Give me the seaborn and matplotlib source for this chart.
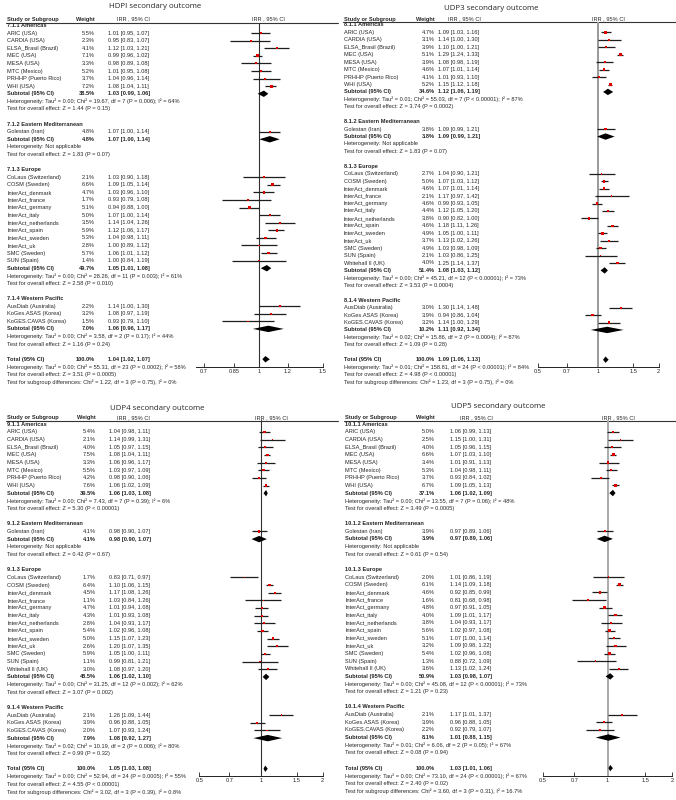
import matplotlib.pyplot as plt
import seaborn as sns
import pandas as pd
from matplotlib.ticker import NullLocator

sns.set_theme(style="white")
plt.rcParams["font.family"] = ["Liberation Sans", "DejaVu Sans"]

# ---- study names ----
regions = ["Americas", "Eastern Mediterranean", "Europe", "Western Pacific"]
americas = ["ARIC (USA)", "CARDIA (USA)", "ELSA_Brasil (Brazil)", "MEC (USA)",
            "MESA (USA)", "MTC (Mexico)", "PRHHP (Puerto Rico)", "WHI (USA)"]
east_med = ["Golestan (Iran)"]
europe = ["CoLaus (Switzerland)", "COSM (Sweden)", "InterAct_denmark", "InterAct_france",
          "InterAct_germany", "InterAct_italy", "InterAct_netherlands", "InterAct_spain",
          "InterAct_sweden", "InterAct_uk", "SMC (Sweden)", "SUN (Spain)", "Whitehall II (UK)"]
west_pac = ["AusDiab (Australia)", "KoGes.ASAS (Korea)", "KoGES.CAVAS (Korea)"]

# ---- HDPI ----
hdpi_weight = [5.5, 2.3, 4.1, 7.1, 3.3, 5.2, 3.7, 7.2,
               4.8,
               2.1, 6.6, 4.7, 1.7, 5.1, 5.0, 3.5, 5.9, 5.3, 2.8, 5.7, 1.4,
               2.2, 3.2, 1.5]
hdpi_irr = [1.01, 0.95, 1.12, 0.99, 0.98, 1.01, 1.04, 1.08,
            1.07,
            1.03, 1.09, 1.03, 0.93, 0.94, 1.07, 1.14, 1.12, 1.04, 1.00, 1.06, 1.00,
            1.14, 1.08, 0.93]
hdpi_lo = [0.95, 0.83, 1.03, 0.96, 0.89, 0.95, 0.96, 1.04,
           1.00,
           0.90, 1.05, 0.96, 0.79, 0.88, 1.00, 1.04, 1.06, 0.98, 0.89, 1.01, 0.84,
           1.00, 0.97, 0.79]
hdpi_hi = [1.07, 1.07, 1.21, 1.02, 1.08, 1.08, 1.14, 1.11,
           1.14,
           1.18, 1.14, 1.10, 1.08, 1.00, 1.14, 1.26, 1.17, 1.11, 1.12, 1.12, 1.19,
           1.30, 1.19, 1.10]
hdpi_sub_w = [38.5, 4.8, 49.7, 7.0, 100.0]
hdpi_sub_irr = [1.03, 1.07, 1.05, 1.06, 1.04]
hdpi_sub_lo = [0.99, 1.00, 1.01, 0.96, 1.02]
hdpi_sub_hi = [1.06, 1.14, 1.08, 1.17, 1.07]
hdpi_het = ["Tau² = 0.00; Chi² = 19.67, df = 7 (P = 0.006); I² = 64%",
            "Not applicable",
            "Tau² = 0.00; Chi² = 28.26, df = 11 (P = 0.003); I² = 61%",
            "Tau² = 0.00; Chi² = 3.58, df = 2 (P = 0.17); I² = 44%",
            "Tau² = 0.00; Chi² = 55.31, df = 23 (P = 0.0002); I² = 58%"]
hdpi_z = ["Z = 1.44 (P = 0.15)", "Z = 1.83 (P = 0.07)", "Z = 2.58 (P = 0.010)",
          "Z = 1.16 (P = 0.24)", "Z = 3.51 (P = 0.0005)"]
hdpi_diff = "Chi² = 1.22, df = 3 (P = 0.75), I² = 0%"

# ---- UDP3 ----
udp3_weight = [4.7, 3.1, 3.9, 5.1, 3.9, 4.6, 4.1, 5.2,
               3.8,
               2.7, 5.0, 4.6, 2.1, 4.6, 4.4, 3.8, 4.6, 4.9, 3.7, 4.9, 2.1, 4.0,
               3.0, 3.9, 3.2]
udp3_irr = [1.09, 1.14, 1.10, 1.29, 1.08, 1.07, 1.01, 1.15,
            1.09,
            1.04, 1.07, 1.07, 1.17, 0.99, 1.12, 0.90, 1.18, 1.05, 1.13, 1.03, 1.03, 1.25,
            1.30, 0.94, 1.14]
udp3_lo = [1.03, 1.00, 1.00, 1.24, 0.98, 1.01, 0.93, 1.12,
           0.99,
           0.90, 1.03, 1.01, 0.97, 0.93, 1.05, 0.82, 1.11, 1.00, 1.02, 0.98, 0.86, 1.14,
           1.14, 0.86, 1.00]
udp3_hi = [1.16, 1.30, 1.21, 1.33, 1.19, 1.14, 1.10, 1.18,
           1.21,
           1.21, 1.12, 1.14, 1.42, 1.05, 1.20, 1.00, 1.26, 1.11, 1.26, 1.09, 1.25, 1.37,
           1.48, 1.04, 1.29]
udp3_sub_w = [34.6, 3.8, 51.4, 10.2, 100.0]
udp3_sub_irr = [1.12, 1.09, 1.08, 1.11, 1.09]
udp3_sub_lo = [1.06, 0.99, 1.03, 0.92, 1.06]
udp3_sub_hi = [1.19, 1.21, 1.12, 1.34, 1.13]
udp3_het = ["Tau² = 0.01; Chi² = 55.03, df = 7 (P < 0.00001); I² = 87%",
            "Not applicable",
            "Tau² = 0.00; Chi² = 45.21, df = 12 (P < 0.00001); I² = 73%",
            "Tau² = 0.02; Chi² = 15.86, df = 2 (P = 0.0004); I² = 87%",
            "Tau² = 0.01; Chi² = 158.81, df = 24 (P < 0.00001); I² = 84%"]
udp3_z = ["Z = 3.74 (P = 0.0002)", "Z = 1.83 (P = 0.07)", "Z = 3.53 (P = 0.0004)",
          "Z = 1.09 (P = 0.28)", "Z = 4.98 (P < 0.00001)"]
udp3_diff = "Chi² = 1.23, df = 3 (P = 0.75), I² = 0%"

# ---- UDP4 ----
udp4_weight = [5.4, 2.1, 4.0, 7.5, 3.3, 5.5, 4.2, 7.6,
               4.1,
               1.7, 6.4, 4.5, 1.1, 4.7, 4.3, 2.8, 5.4, 5.0, 2.6, 5.9, 1.1, 3.0,
               2.1, 3.9, 2.0]
udp4_irr = [1.04, 1.14, 1.05, 1.08, 1.06, 1.03, 0.98, 1.06,
            0.98,
            0.83, 1.10, 1.17, 1.03, 1.01, 1.01, 1.04, 1.02, 1.15, 1.20, 1.05, 0.99, 1.08,
            1.26, 0.96, 1.07]
udp4_lo = [0.98, 0.99, 0.97, 1.04, 0.96, 0.97, 0.90, 1.02,
           0.90,
           0.71, 1.06, 1.08, 0.84, 0.94, 0.93, 0.93, 0.96, 1.07, 1.07, 1.00, 0.81, 0.97,
           1.09, 0.88, 0.93]
udp4_hi = [1.11, 1.31, 1.15, 1.11, 1.17, 1.09, 1.06, 1.09,
           1.07,
           0.97, 1.15, 1.26, 1.26, 1.08, 1.08, 1.17, 1.08, 1.23, 1.35, 1.11, 1.21, 1.20,
           1.44, 1.05, 1.24]
udp4_sub_w = [39.5, 4.1, 48.5, 7.9, 100.0]
udp4_sub_irr = [1.06, 0.98, 1.06, 1.08, 1.05]
udp4_sub_lo = [1.03, 0.90, 1.02, 0.92, 1.03]
udp4_sub_hi = [1.08, 1.07, 1.10, 1.27, 1.08]
udp4_het = ["Tau² = 0.00; Chi² = 7.43, df = 7 (P = 0.39); I² = 6%",
            "Not applicable",
            "Tau² = 0.00; Chi² = 31.25, df = 12 (P = 0.002); I² = 62%",
            "Tau² = 0.02; Chi² = 10.19, df = 2 (P = 0.006); I² = 80%",
            "Tau² = 0.00; Chi² = 52.94, df = 24 (P = 0.0005); I² = 55%"]
udp4_z = ["Z = 5.30 (P < 0.00001)", "Z = 0.42 (P = 0.67)", "Z = 3.07 (P = 0.002)",
          "Z = 0.99 (P = 0.32)", "Z = 4.55 (P < 0.00001)"]
udp4_diff = "Chi² = 3.02, df = 3 (P = 0.39), I² = 0.8%"

# ---- UDP5 ----
udp5_weight = [5.0, 2.5, 4.0, 6.6, 3.4, 5.3, 3.7, 6.7,
               3.9,
               2.0, 6.1, 4.6, 1.6, 4.8, 4.0, 3.8, 5.6, 5.1, 3.2, 5.4, 1.3, 3.6,
               2.1, 3.9, 2.2]
udp5_irr = [1.06, 1.15, 1.05, 1.07, 1.01, 1.04, 0.93, 1.09,
            0.97,
            1.01, 1.14, 0.92, 0.81, 0.97, 1.09, 1.04, 1.02, 1.07, 1.09, 1.02, 0.88, 1.13,
            1.17, 0.96, 0.92]
udp5_lo = [0.99, 1.00, 0.96, 1.03, 0.91, 0.98, 0.84, 1.05,
           0.89,
           0.86, 1.09, 0.85, 0.68, 0.91, 1.01, 0.93, 0.97, 1.00, 0.98, 0.96, 0.72, 1.02,
           1.01, 0.88, 0.79]
udp5_hi = [1.13, 1.31, 1.15, 1.10, 1.13, 1.11, 1.02, 1.13,
           1.06,
           1.19, 1.18, 0.99, 0.98, 1.05, 1.17, 1.17, 1.08, 1.14, 1.22, 1.08, 1.09, 1.24,
           1.37, 1.05, 1.07]
udp5_sub_w = [37.1, 3.9, 50.9, 8.1, 100.0]
udp5_sub_irr = [1.06, 0.97, 1.03, 1.01, 1.03]
udp5_sub_lo = [1.02, 0.89, 0.98, 0.88, 1.01]
udp5_sub_hi = [1.09, 1.06, 1.07, 1.15, 1.06]
udp5_het = ["Tau² = 0.00; Chi² = 13.55, df = 7 (P = 0.06); I² = 48%",
            "Not applicable",
            "Tau² = 0.00; Chi² = 45.08, df = 12 (P < 0.00001); I² = 73%",
            "Tau² = 0.01; Chi² = 6.06, df = 2 (P = 0.05); I² = 67%",
            "Tau² = 0.00; Chi² = 73.10, df = 24 (P < 0.00001); I² = 67%"]
udp5_z = ["Z = 3.49 (P = 0.0005)", "Z = 0.61 (P = 0.54)", "Z = 1.21 (P = 0.23)",
          "Z = 0.08 (P = 0.94)", "Z = 2.40 (P = 0.02)"]
udp5_diff = "Chi² = 3.60, df = 3 (P = 0.31), I² = 16.7%"

W, H = 676, 800
FS = 4.1

fig = plt.figure(figsize=(W / 100, H / 100), dpi=100)
txt = fig.add_axes([0, 0, 1, 1])
txt.set_xlim(0, W)
txt.set_ylim(H, 0)
txt.axis("off")


def draw_panel(lay, title, prefix, studies, weight, irr, lo, hi,
               sub_w, sub_irr, sub_lo, sub_hi, het, z, diff):
    nx, wx, cx = lay["name_x"], lay["weight_x"], lay["irr_x"]
    txt.text(lay["title_x"], lay["title_y"], title, fontsize=5.7, ha="center", va="center",
             family=["Open Sans", "DejaVu Sans"])
    hy = lay["head_y"]
    txt.text(nx, hy, "Study or Subgroup", fontsize=FS, fontweight="bold", va="center")
    txt.text(wx, hy, "Weight", fontsize=FS, fontweight="bold", va="center", ha="right")
    txt.text(lay["irr_head_x"], hy, "IRR , 95% CI", fontsize=FS, va="center", ha="center")
    txt.text(lay["plot_head_x"], hy, "IRR , 95% CI", fontsize=FS, va="center", ha="center")
    txt.plot([nx - 1, lay["right"]], [lay["line_y"]] * 2, color="#333333", lw=0.8)

    left, right = lay["f_left"], lay["f_right"]
    ytop, yax = lay["line_y"], lay["axis_y"]
    fx = fig.add_axes([left / W, 1 - yax / H, (right - left) / W, (yax - ytop) / H])
    fx.set_xscale("log")
    fx.axvline(1, color=lay["vcolor"], lw=lay["vlw"], zorder=1)

    def row_text(y, name, w, e, l, h, bold=False):
        fw = "bold" if bold else "normal"
        txt.text(nx, y, name, fontsize=FS, fontweight=fw, va="center")
        txt.text(wx, y, f"{w:.1f}%", fontsize=FS, fontweight=fw, va="center", ha="right")
        txt.text(cx, y, f"{e:.2f} [{l:.2f}, {h:.2f}]", fontsize=FS, fontweight=fw, va="center")

    def diamond(y, e, l, h):
        d = 3.2
        fx.fill([l, e, h, e], [y, y - d, y, y + d], color="black", lw=0, zorder=3)

    ys, k, i = [], 0, 0
    y0, dy = lay["row0"], lay["dy"]
    for g, names in enumerate(studies):
        txt.text(nx, y0 + i * dy, f"{prefix}{g + 1} {regions[g]}", fontsize=FS,
                 fontweight="bold", va="center")
        i += 1
        for name in names:
            y = y0 + i * dy
            row_text(y, name, weight[k], irr[k], lo[k], hi[k])
            fx.plot([lo[k], hi[k]], [y, y], color="#1e1e1e", lw=0.9,
                    solid_capstyle="butt", zorder=2)
            ys.append(y)
            k += 1
            i += 1
        y = y0 + i * dy
        row_text(y, "Subtotal (95% CI)", sub_w[g], sub_irr[g], sub_lo[g], sub_hi[g], bold=True)
        diamond(y, sub_irr[g], sub_lo[g], sub_hi[g])
        i += 1
        txt.text(nx, y0 + i * dy, "Heterogeneity: " + het[g], fontsize=FS, va="center")
        i += 1
        txt.text(nx, y0 + i * dy, "Test for overall effect: " + z[g], fontsize=FS, va="center")
        i += 2
    y = y0 + i * dy
    row_text(y, "Total (95% CI)", sub_w[4], sub_irr[4], sub_lo[4], sub_hi[4], bold=True)
    diamond(y, sub_irr[4], sub_lo[4], sub_hi[4])
    i += 1
    txt.text(nx, y0 + i * dy, "Heterogeneity: " + het[4], fontsize=FS, va="center")
    i += 1
    txt.text(nx, y0 + i * dy, "Test for overall effect: " + z[4], fontsize=FS, va="center")
    i += 1
    txt.text(nx, y0 + i * dy, "Test for subgroup differences: " + diff, fontsize=FS, va="center")

    df = pd.DataFrame({"irr": irr, "y": ys, "weight": weight})
    sns.scatterplot(data=df, x="irr", y="y", size="weight", sizes=(1.2, 4), marker="s",
                    color="#e00000", linewidth=0, legend=False, ax=fx, zorder=4)

    fx.set_xlim(*lay["xlim"])
    fx.set_ylim(yax, ytop)
    fx.set_xlabel("")
    fx.set_ylabel("")
    fx.set_yticks([])
    fx.set_xticks(lay["ticks"])
    fx.set_xticklabels(lay["ticklabels"])
    fx.xaxis.set_minor_locator(NullLocator())
    fx.tick_params(axis="x", direction="in", length=3, width=0.6, labelsize=FS,
                   pad=1.5, bottom=True, colors="#222222")
    for s in ["top", "left", "right"]:
        fx.spines[s].set_visible(False)
    fx.spines["bottom"].set_color("#222222")
    fx.spines["bottom"].set_linewidth(0.7)
    fx.patch.set_alpha(0)


wide_ticks = [0.5, 0.7, 1, 1.5, 2]
wide_labels = ["0.5", "0.7", "1", "1.5", "2"]

hdpi_lay = dict(title_x=155, title_y=6, head_y=19, line_y=22.5, right=338,
                name_x=7, weight_x=95, irr_x=108, irr_head_x=133, plot_head_x=268,
                row0=25.5, dy=7.585, f_left=196, f_right=322.5, axis_y=367,
                xlim=(1 / 1.5, 1.5), ticks=[0.7, 0.85, 1, 1.2, 1.5],
                ticklabels=["0.7", "0.85", "1", "1.2", "1.5"], vcolor="#333333", vlw=0.8)
udp3_lay = dict(title_x=491, title_y=9, head_y=19, line_y=22, right=676,
                name_x=344, weight_x=435, irr_x=438, irr_head_x=464, plot_head_x=608,
                row0=25, dy=7.4375, f_left=537.5, f_right=658.5, axis_y=367,
                xlim=(0.5, 2), ticks=wide_ticks, ticklabels=wide_labels,
                vcolor="#999999", vlw=1.4)
udp4_lay = dict(title_x=157, title_y=409, head_y=418, line_y=420.5, right=338,
                name_x=7, weight_x=96, irr_x=109, irr_head_x=133, plot_head_x=271,
                row0=424.3, dy=7.654, f_left=199.3, f_right=322.5, axis_y=776,
                xlim=(0.5, 2), ticks=wide_ticks, ticklabels=wide_labels,
                vcolor="#333333", vlw=0.8)
udp5_lay = dict(title_x=498, title_y=407, head_y=418, line_y=420.5, right=676,
                name_x=345, weight_x=435, irr_x=450, irr_head_x=476, plot_head_x=618,
                row0=424.3, dy=7.64, f_left=543, f_right=672, axis_y=776,
                xlim=(0.5, 2), ticks=wide_ticks, ticklabels=wide_labels,
                vcolor="#aaaaaa", vlw=1.4)

full = [americas, east_med, europe, west_pac]
draw_panel(hdpi_lay, "HDPI secondary outcome", "7.1.", [americas, east_med, europe[:12], west_pac],
           hdpi_weight, hdpi_irr, hdpi_lo, hdpi_hi, hdpi_sub_w, hdpi_sub_irr, hdpi_sub_lo,
           hdpi_sub_hi, hdpi_het, hdpi_z, hdpi_diff)
draw_panel(udp3_lay, "UDP3 secondary outcome", "8.1.", full,
           udp3_weight, udp3_irr, udp3_lo, udp3_hi, udp3_sub_w, udp3_sub_irr, udp3_sub_lo,
           udp3_sub_hi, udp3_het, udp3_z, udp3_diff)
draw_panel(udp4_lay, "UDP4 secondary outcome", "9.1.", full,
           udp4_weight, udp4_irr, udp4_lo, udp4_hi, udp4_sub_w, udp4_sub_irr, udp4_sub_lo,
           udp4_sub_hi, udp4_het, udp4_z, udp4_diff)
draw_panel(udp5_lay, "UDP5 secondary outcome", "10.1.", full,
           udp5_weight, udp5_irr, udp5_lo, udp5_hi, udp5_sub_w, udp5_sub_irr, udp5_sub_lo,
           udp5_sub_hi, udp5_het, udp5_z, udp5_diff)

fig.savefig("out.png", dpi=100, facecolor="white")
